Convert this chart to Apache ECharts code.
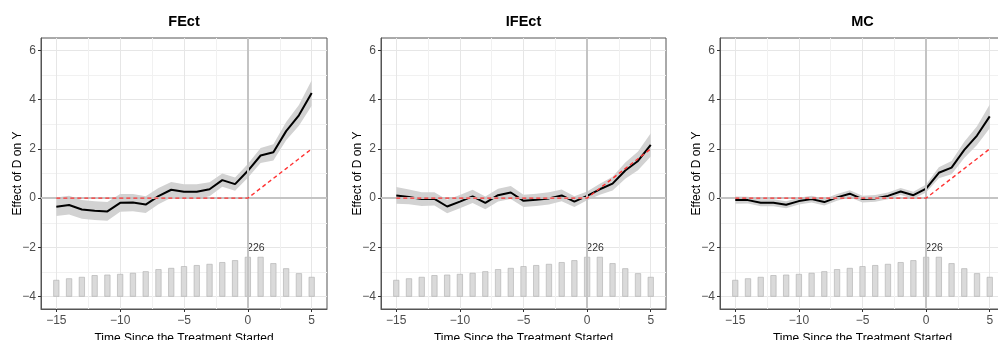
<!DOCTYPE html>
<html><head><meta charset="utf-8">
<script src="https://cdn.jsdelivr.net/npm/echarts@6/dist/echarts.min.js"></script>
<style>html,body{margin:0;padding:0;background:#fff}#c{width:998px;height:340px}</style>
</head><body><div id="c"></div>
<script>
// ---- data ----
const periods = [-15,-14,-13,-12,-11,-10,-9,-8,-7,-6,-5,-4,-3,-2,-1,0,1,2,3,4,5];
const counts  = [95,104,112,122,125,129,135,144,156,163,173,179,186,196,207,226,226,190,161,133,112];
const trueEffect = [0,0,0,0,0,0,0,0,0,0,0,0,0,0,0,0,0.4,0.8,1.2,1.6,2.0];
const panelTitles = ['FEct','IFEct','MC'];

const fectEst   = [-0.35,-0.28,-0.46,-0.51,-0.54,-0.19,-0.18,-0.26,0.08,0.34,0.26,0.26,0.36,0.73,0.57,1.11,1.73,1.86,2.72,3.36,4.27];
const fectLower = [-0.73,-0.66,-0.84,-0.89,-0.92,-0.55,-0.53,-0.60,-0.25,0.02,-0.04,-0.04,0.08,0.46,0.30,0.83,1.43,1.53,2.35,2.94,3.75];
const fectUpper = [0.03,0.10,-0.08,-0.13,-0.16,0.17,0.17,0.08,0.41,0.66,0.56,0.56,0.64,1.00,0.84,1.39,2.03,2.19,3.09,3.78,4.79];

const ifectEst   = [0.11,0.05,-0.04,-0.03,-0.34,-0.14,0.07,-0.19,0.12,0.23,-0.11,-0.07,-0.01,0.11,-0.14,0.09,0.36,0.59,1.12,1.51,2.16];
const ifectLower = [-0.23,-0.25,-0.32,-0.30,-0.61,-0.41,-0.20,-0.45,-0.14,-0.03,-0.36,-0.32,-0.26,-0.13,-0.36,-0.09,0.14,0.31,0.79,1.13,1.69];
const ifectUpper = [0.45,0.35,0.24,0.24,-0.07,0.13,0.34,0.07,0.38,0.49,0.14,0.18,0.24,0.35,0.08,0.27,0.58,0.87,1.45,1.89,2.63];

const mcEst   = [-0.08,-0.08,-0.19,-0.19,-0.27,-0.12,-0.04,-0.16,0.03,0.18,-0.04,-0.01,0.09,0.27,0.12,0.39,1.03,1.24,1.96,2.54,3.32];
const mcLower = [-0.23,-0.22,-0.33,-0.33,-0.41,-0.26,-0.18,-0.30,-0.11,0.04,-0.18,-0.15,-0.05,0.13,-0.02,0.23,0.81,0.97,1.63,2.16,2.84];
const mcUpper = [0.07,0.06,-0.05,-0.05,-0.13,0.02,0.10,-0.02,0.17,0.32,0.10,0.13,0.23,0.41,0.26,0.55,1.25,1.51,2.29,2.92,3.80];

const xTicks = [-15,-10,-5,0,5];
const yTicks = [-4,-2,0,2,4,6];

// ---- layout / style ----
const FONT = '"Liberation Sans", Arial, Helvetica, sans-serif';
const estimates = [fectEst, ifectEst, mcEst];
const lowers = [fectLower, ifectLower, mcLower];
const uppers = [fectUpper, ifectUpper, mcUpper];
const gridLefts = [41, 381, 720];
const gridWidths = [286, 285, 285];
const gridTop = 38, gridHeight = 271;
const xMin = -16.2, xMax = 6.2, yMin = -4.5, yMax = 6.5;
const barBase = -4, barTopAtMax = -2.385;
const maxCount = Math.max(...counts);
const maxIdx = counts.indexOf(maxCount);
const countsPerUnit = maxCount / (barTopAtMax - barBase);
const barAxisMin = (yMin - barBase) * countsPerUnit;
const barAxisMax = (yMax - barBase) * countsPerUnit;
const fmt = v => String(v).replace('-', '\u2212');

const option = {
  animation: false,
  textStyle: { fontFamily: FONT },
  title: panelTitles.map((t, i) => ({
    text: t, left: gridLefts[i] + gridWidths[i] / 2, top: 14, textAlign: 'center', padding: 0,
    textStyle: { fontSize: 14.5, fontWeight: 'bold', color: '#000', fontFamily: FONT }
  })),
  grid: gridLefts.map((l, i) => ({
    left: l, top: gridTop, width: gridWidths[i], height: gridHeight,
    show: true, borderColor: '#555', borderWidth: 1, backgroundColor: 'transparent',
    containLabel: false, outerBoundsMode: 'none'
  })),
  xAxis: [0, 1, 2].map(i => ({
    type: 'value', gridIndex: i, min: xMin, max: xMax, splitNumber: 5,
    name: 'Time Since the Treatment Started', nameLocation: 'middle', nameGap: 23.5, nameMoveOverlap: false,
    nameTextStyle: { fontSize: 12, color: '#000', fontFamily: FONT },
    axisLine: { show: true, onZero: false, lineStyle: { color: '#555', width: 1 } },
    axisTick: { show: true, length: 3, customValues: xTicks, lineStyle: { color: '#333' } },
    axisLabel: { customValues: xTicks, formatter: fmt, fontSize: 12, color: '#4d4d4d', margin: 6, fontFamily: FONT },
    splitLine: { show: true, lineStyle: { color: '#e6e6e6', width: 1 } },
    minorTick: { show: false, splitNumber: 2 },
    minorSplitLine: { show: true, lineStyle: { color: '#f1f1f1', width: 1 } }
  })),
  yAxis: [].concat(...[0, 1, 2].map(i => ([
    {
      type: 'value', gridIndex: i, min: yMin, max: yMax, splitNumber: 5,
      name: 'Effect of D on Y', nameLocation: 'middle', nameGap: 17, nameRotate: 90, nameMoveOverlap: false,
      nameTextStyle: { fontSize: 12, color: '#000', fontFamily: FONT },
      axisLine: { show: true, onZero: false, lineStyle: { color: '#555', width: 1 } },
      axisTick: { show: true, length: 3, customValues: yTicks, lineStyle: { color: '#333' } },
      axisLabel: { customValues: yTicks, formatter: fmt, fontSize: 12, color: '#4d4d4d', margin: 5, fontFamily: FONT },
      splitLine: { show: true, lineStyle: { color: '#e6e6e6', width: 1 } },
      minorTick: { show: false, splitNumber: 2 },
      minorSplitLine: { show: true, lineStyle: { color: '#f1f1f1', width: 1 } }
    },
    { type: 'value', gridIndex: i, show: false, min: barAxisMin, max: barAxisMax, splitLine: { show: false } }
  ]))),
  series: [].concat(...[0, 1, 2].map(i => ([
    {
      type: 'bar', xAxisIndex: i, yAxisIndex: 2 * i + 1, z: 1, silent: true,
      data: periods.map((x, k) => [x, counts[k]]), barWidth: 6,
      itemStyle: { color: '#dadada', borderColor: '#acacac', borderWidth: 0.6 },
      label: {
        show: true, position: 'top', distance: 3, offset: [8, 0], fontSize: 10.5, color: '#333', fontFamily: FONT,
        formatter: p => (p.dataIndex === maxIdx ? String(counts[p.dataIndex]) : '')
      }
    },
    {
      type: 'line', xAxisIndex: i, yAxisIndex: 2 * i, z: 2, data: [], silent: true,
      markLine: {
        silent: true, symbol: 'none', animation: false, label: { show: false },
        lineStyle: { color: '#c4c4c4', width: 2, type: 'solid' },
        data: [{ xAxis: 0 }, { yAxis: 0 }]
      }
    },
    {
      type: 'custom', xAxisIndex: i, yAxisIndex: 2 * i, z: 3, silent: true,
      data: periods.map((x, k) => [x, lowers[i][k], uppers[i][k]]),
      encode: { x: 0, y: [1, 2] },
      renderItem: (params, api) => {
        if (params.dataIndex !== 0) return { type: 'group', children: [] };
        const pts = [];
        for (let k = 0; k < periods.length; k++) pts.push(api.coord([periods[k], uppers[i][k]]));
        for (let k = periods.length - 1; k >= 0; k--) pts.push(api.coord([periods[k], lowers[i][k]]));
        return { type: 'polygon', shape: { points: pts }, style: { fill: '#d2d2d2' } };
      }
    },
    {
      type: 'line', xAxisIndex: i, yAxisIndex: 2 * i, z: 4, silent: true,
      data: periods.map((x, k) => [x, estimates[i][k]]), symbol: 'none',
      lineStyle: { color: '#000', width: 2 }
    },
    {
      type: 'line', xAxisIndex: i, yAxisIndex: 2 * i, z: 5, silent: true,
      data: periods.map((x, k) => [x, trueEffect[k]]), symbol: 'none',
      lineStyle: { color: '#ff3333', width: 1.4, type: [4, 3] }
    }
  ])))
};

const chart = echarts.init(document.getElementById('c'), null, { renderer: 'canvas' });
chart.setOption(option);
</script>
</body></html>
